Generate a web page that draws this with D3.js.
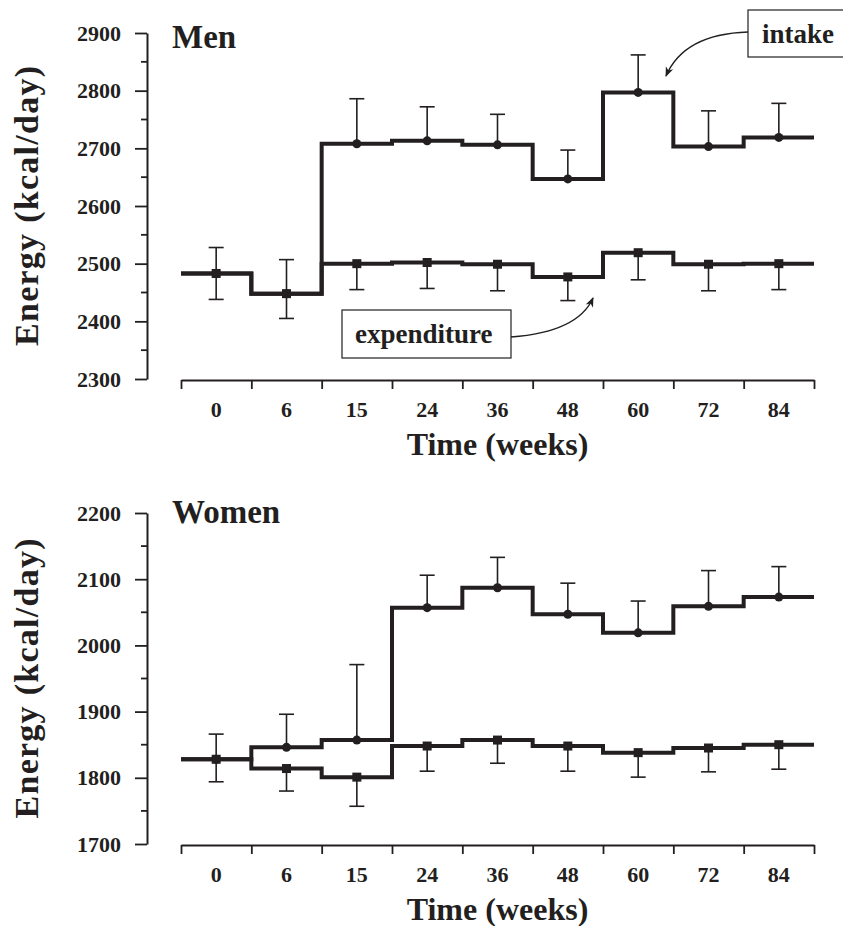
<!DOCTYPE html>
<html>
<head>
<meta charset="utf-8">
<script src="https://cdn.jsdelivr.net/npm/d3@7"></script>
<style>
body { margin: 0; background: #fff; }
svg text { font-family: "Liberation Serif", "Times New Roman", serif; font-weight: bold; fill: #231f20; }
</style>
</head>
<body>
<div id="chart"></div>
<script>
// Zeitpunkte (Wochen)
var weeks = ["0", "6", "15", "24", "36", "48", "60", "72", "84"];

// Männer: Aufnahme (Kreise, Fehlerbalken nach oben) und Verbrauch (Quadrate, nach unten)
var menIntake      = [2483, 2448, 2708, 2713, 2706, 2647, 2797, 2703, 2719];
var menIntakeUp    = [2528, 2507, 2786, 2772, 2759, 2697, 2862, 2765, 2778];
var menExpend      = [2483, 2448, 2500, 2502, 2499, 2477, 2519, 2499, 2500];
var menExpendDown  = [2438, 2405, 2455, 2457, 2453, 2436, 2472, 2453, 2455];

// Frauen
var womenIntake     = [1828, 1846, 1857, 2057, 2087, 2047, 2019, 2059, 2073];
var womenIntakeUp   = [1866, 1896, 1971, 2106, 2133, 2094, 2067, 2113, 2119];
var womenExpend     = [1828, 1814, 1801, 1848, 1857, 1848, 1838, 1845, 1850];
var womenExpendDown = [1794, 1780, 1757, 1810, 1822, 1810, 1801, 1809, 1813];

var menTicks   = [2300, 2400, 2500, 2600, 2700, 2800, 2900];
var womenTicks = [1700, 1800, 1900, 2000, 2100, 2200];

var width = 843;
var height = 926;
var ink = "#231f20";

var svg = d3.select("#chart")
  .append("svg")
  .attr("width", width)
  .attr("height", height);

// Pfeilspitze für die Beschriftungen
svg.append("defs").append("marker")
    .attr("id", "arrow")
    .attr("viewBox", "0 0 10 10")
    .attr("refX", 9)
    .attr("refY", 5)
    .attr("markerWidth", 10)
    .attr("markerHeight", 10)
    .attr("markerUnits", "userSpaceOnUse")
    .attr("orient", "auto")
  .append("path")
    .attr("d", "M0,1 L10,5 L0,9 L3,5 z")
    .attr("fill", ink);

// x-Skalen: Band für die Mitte, linear für die Grenzen
var x = d3.scaleBand().domain(weeks).range([181, 814]);
var xEdge = d3.scaleLinear().domain([0, weeks.length]).range([181, 814]);

function drawPanel(p) {
  var y = d3.scaleLinear().domain([p.ticks[0], p.ticks[p.ticks.length - 1]]).range(p.range);
  var g = svg.append("g");
  var axisY = y(p.ticks[0]) + 1;

  // y-Achse
  var ya = g.append("g")
    .attr("transform", "translate(147,0)")
    .call(d3.axisLeft(y).tickValues(p.ticks).tickSize(12).tickSizeOuter(0).tickPadding(14).tickFormat(d3.format("d")));
  ya.select(".domain").attr("stroke", ink).attr("stroke-width", 2);
  ya.selectAll(".tick line").attr("stroke", ink).attr("stroke-width", 1.8);
  ya.selectAll(".tick text").style("font-size", "22px");

  // Zwischenstriche bei 50
  g.selectAll(".minor")
    .data(p.ticks.slice(1).map(function(d) { return d - 50; }))
    .enter()
    .append("line")
      .attr("x1", 141).attr("x2", 147)
      .attr("y1", function(d) { return y(d); })
      .attr("y2", function(d) { return y(d); })
      .attr("stroke", ink).attr("stroke-width", 1.8);

  // x-Achse mit Strichen an den Intervallgrenzen
  var xa = g.append("g")
    .attr("transform", "translate(0," + axisY + ")")
    .call(d3.axisBottom(xEdge).tickValues(d3.range(weeks.length + 1)).tickSize(9).tickSizeOuter(0).tickFormat(""));
  xa.select(".domain").attr("stroke", ink).attr("stroke-width", 2);
  xa.selectAll(".tick line").attr("stroke", ink).attr("stroke-width", 1.8);

  g.selectAll(".xlabel")
    .data(weeks)
    .enter()
    .append("text")
      .attr("x", function(d) { return x(d) + x.bandwidth() / 2; })
      .attr("y", axisY + 37)
      .attr("text-anchor", "middle")
      .style("font-size", "22px")
      .text(function(d) { return d; });

  g.append("text")
    .attr("x", (181 + 814) / 2)
    .attr("y", axisY + 75)
    .attr("text-anchor", "middle")
    .style("font-size", "32px")
    .text("Time (weeks)");

  // y-Achsentitel
  var mid = (p.range[0] + p.range[1]) / 2;
  g.append("text")
    .attr("transform", "translate(38," + mid + ") rotate(-90)")
    .attr("text-anchor", "middle")
    .attr("textLength", 280)
    .attr("lengthAdjust", "spacing")
    .style("font-size", "34px")
    .text("Energy (kcal/day)");

  // Paneltitel
  g.append("text")
    .attr("x", 172)
    .attr("y", p.titleY)
    .style("font-size", "33px")
    .text(p.title);

  // Treppenlinien
  var line = d3.line();
  function steps(vals) {
    var pts = [];
    vals.forEach(function(v, i) {
      pts.push([xEdge(i), y(v)]);
      pts.push([xEdge(i + 1), y(v)]);
    });
    return pts;
  }
  [p.intake, p.expend].forEach(function(vals) {
    g.append("path")
      .attr("d", line(steps(vals)))
      .attr("fill", "none")
      .attr("stroke", ink)
      .attr("stroke-width", 4)
      .attr("stroke-linejoin", "miter");
  });

  // Fehlerbalken
  function errorBars(vals, ends) {
    var eb = g.append("g");
    eb.selectAll("line.v")
      .data(vals)
      .enter()
      .append("line")
        .attr("x1", function(d, i) { return x(weeks[i]) + x.bandwidth() / 2; })
        .attr("x2", function(d, i) { return x(weeks[i]) + x.bandwidth() / 2; })
        .attr("y1", function(d) { return y(d); })
        .attr("y2", function(d, i) { return y(ends[i]); })
        .attr("stroke", ink).attr("stroke-width", 1.6);
    eb.selectAll("line.c")
      .data(ends)
      .enter()
      .append("line")
        .attr("x1", function(d, i) { return x(weeks[i]) + x.bandwidth() / 2 - 7.5; })
        .attr("x2", function(d, i) { return x(weeks[i]) + x.bandwidth() / 2 + 7.5; })
        .attr("y1", function(d) { return y(d); })
        .attr("y2", function(d) { return y(d); })
        .attr("stroke", ink).attr("stroke-width", 1.6);
  }
  errorBars(p.intake, p.intakeUp);
  errorBars(p.expend, p.expendDown);

  // Marker: Kreise (Aufnahme), Quadrate (Verbrauch)
  g.selectAll(".dot")
    .data(p.intake)
    .enter()
    .append("circle")
      .attr("cx", function(d, i) { return x(weeks[i]) + x.bandwidth() / 2; })
      .attr("cy", function(d) { return y(d); })
      .attr("r", 4.5)
      .attr("fill", ink);
  g.selectAll(".sq")
    .data(p.expend)
    .enter()
    .append("rect")
      .attr("x", function(d, i) { return x(weeks[i]) + x.bandwidth() / 2 - 4.5; })
      .attr("y", function(d) { return y(d) - 4.5; })
      .attr("width", 9)
      .attr("height", 9)
      .attr("fill", ink);
}

drawPanel({
  title: "Men", titleY: 48, ticks: menTicks, range: [379, 33],
  intake: menIntake, intakeUp: menIntakeUp, expend: menExpend, expendDown: menExpendDown
});

drawPanel({
  title: "Women", titleY: 523, ticks: womenTicks, range: [844, 513],
  intake: womenIntake, intakeUp: womenIntakeUp, expend: womenExpend, expendDown: womenExpendDown
});

// Beschriftungskästen mit Pfeilen (nur Männer)
function callout(label, bx, by, bw, bh, tx, ty, curve) {
  svg.append("path")
    .attr("d", curve)
    .attr("fill", "none")
    .attr("stroke", ink)
    .attr("stroke-width", 1.4)
    .attr("marker-end", "url(#arrow)");
  svg.append("rect")
    .attr("x", bx).attr("y", by)
    .attr("width", bw).attr("height", bh)
    .attr("fill", "#fff")
    .attr("stroke", ink)
    .attr("stroke-width", 1.2);
  svg.append("text")
    .attr("x", tx).attr("y", ty)
    .style("font-size", "27px")
    .text(label);
}
callout("intake", 748, 10, 110, 47, 762, 43, "M748,32 Q684,34 666,76");
callout("expenditure", 342, 310, 169, 48, 355, 343, "M511,337 Q578,332 593,298");
</script>
</body>
</html>
